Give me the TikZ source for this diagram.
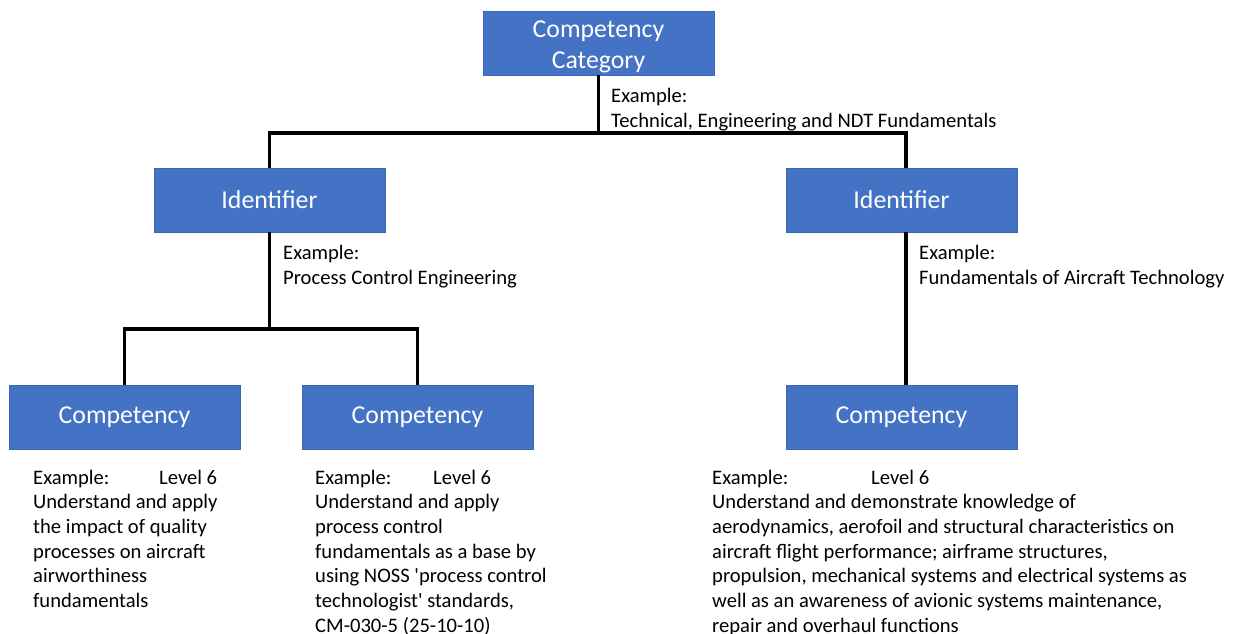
\documentclass[tikz,border=0pt]{standalone}
\usepackage{fontspec}
\setmainfont{Carlito}
\definecolor{boxblue}{HTML}{4472C4}
\definecolor{boxedge}{HTML}{3B66B3}
\begin{document}
\begin{tikzpicture}[x=1pt,y=-1pt,
  box/.style={draw=boxedge,line width=0.8pt,fill=boxblue,text=white,minimum width=231pt,minimum height=64pt,inner sep=0pt,align=center,font=\fontsize{25.8}{31}\selectfont},
  conn/.style={line width=3.5pt,black},
  note/.style={anchor=base west,inner sep=0pt,align=left,font=\fontsize{20.6}{24.7}\selectfont}]
\useasboundingbox (0,0) rectangle (1236,633);
\node[box] (cat) at (598.5,43) {\rule{0pt}{24pt}Competency\\Category};
\node[box] (idL) at (269.5,200) {Identifier};
\node[box] (idR) at (901.5,200) {Identifier};
\node[box] (c1) at (124.5,417) {Competency};
\node[box] (c2) at (417.5,417) {Competency};
\node[box] (c3) at (901.5,417) {Competency};
\coordinate (j1) at (598.5,133);
\coordinate (j2) at (269.5,329);
\draw[conn] (cat.south) -- (j1);
\draw[conn] (idL.north) |- (j1) -| ([xshift=4.5pt]idR.north);
\draw[conn] (idL.south) -- (j2);
\draw[conn] (c1.north) |- (j2) -| (c2.north);
\draw[conn] ([xshift=4.5pt]idR.south) -- ([xshift=4.5pt]c3.north);
\node[note] (tcat) at (611,127) {Example:\\Technical, Engineering and NDT Fundamentals};
\node[note] (tidL) at (283,284) {Example:\\Process Control Engineering};
\node[note] (tidR) at (919,284) {Example:\\Fundamentals of Aircraft Technology};
\node[note] (tc1) at (33,607.5) {\makebox[126pt][l]{Example:}Level 6\\Understand and apply\\the impact of quality\\processes on aircraft\\airworthiness\\fundamentals};
\node[note] (tc2) at (315,632.2) {\makebox[118pt][l]{Example:}Level 6\\Understand and apply\\process control\\fundamentals as a base by\\using NOSS \textquotesingle process control\\technologist\textquotesingle\ standards,\\CM-030-5 (25-10-10)};
\node[note] (tc3) at (712,632.2) {\makebox[159pt][l]{Example:}Level 6\\Understand and demonstrate knowledge of\\aerodynamics, aerofoil and structural characteristics on\\aircraft flight performance; airframe structures,\\propulsion, mechanical systems and electrical systems as\\well as an awareness of avionic systems maintenance,\\repair and overhaul functions};
\end{tikzpicture}
\end{document}
